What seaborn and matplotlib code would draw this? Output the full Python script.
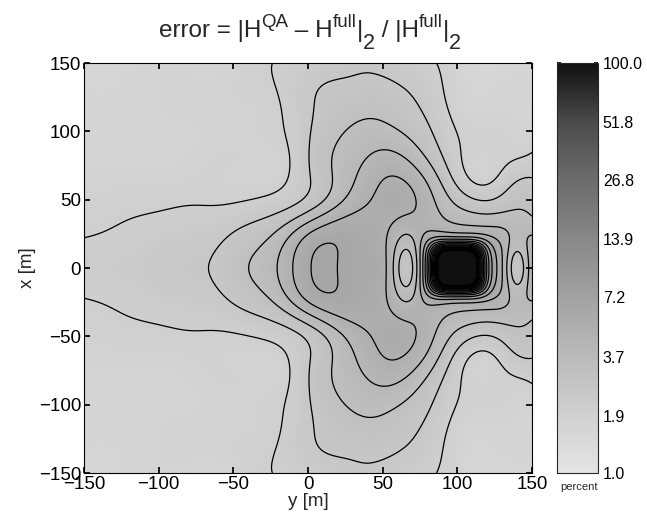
import numpy as np
import matplotlib
matplotlib.use("Agg")
import matplotlib.pyplot as plt
import seaborn as sns
from matplotlib.colors import LogNorm, LinearSegmentedColormap
from matplotlib.transforms import offset_copy

# ---------------- data ----------------
axis_ticks = [-150, -100, -50, 0, 50, 100, 150]
cbar_ticks = [1.0, 1.9, 3.7, 7.2, 13.9, 26.8, 51.8, 100.0]
contour_levels_log = [0.1 * k for k in range(3, 21)]   # log10(percent) of drawn contours

# contour lines traced on the picture (y [m], x [m]), upper half (x >= 0), field symmetric in x
L1_y = [-150, -125, -106, -72, -37, -17, -12, -13, -14, -19, -24, -25, 87, 90, 93, 100, 102, 108, 115, 122, 129, 140, 150]
L1_x = [22, 33, 40, 46, 50, 59, 70, 82, 94, 118, 143, 150, 150, 135, 118, 86, 74, 62, 57, 60, 70, 78, 86]
L2_y = [-67, -62, -55, -47, -30, -12, -3, 1, 1, 1, 2, 10, 23, 37, 50, 60, 68, 77, 84, 90, 95, 100, 106, 113, 130, 150]
L2_x = [0, 12, 22, 28, 37, 45, 52, 64, 80, 101, 123, 133, 139, 141, 140, 135, 128, 114, 99, 85, 74, 64, 56, 52, 58, 66]
L3_y = [-39, -37, -25, -5, 7, 13, 16, 19, 24, 33, 46, 58, 66, 75, 84, 90, 96, 110, 130, 150]
L3_x = [0, 11, 22, 37, 45, 52, 65, 90, 101, 106, 108, 103, 96, 84, 70, 58, 46, 42, 40, 38]
L4_y = [-21, -18, -10, 5, 23, 30, 35, 40, 47, 55, 63, 70, 77, 82]
L4_x = [0, 13, 26, 37, 48, 62, 72, 79, 84, 86, 83, 77, 67, 55]
L5_y = [-10, -9, -7, 0, 8, 20, 35, 43, 48, 55, 62, 70, 75]
L5_x = [0, 10, 18, 25, 30, 36, 42, 52, 62, 66, 64, 58, 52]
L6_y = [3, 5, 11, 17, 20]
L6_x = [0, 9, 13, 9, 0]
# spot values (log10 percent) read from the grey shade
val_y = [-150, -100, -60, -130, -60, -40, -150, -100, 20, 50, 0, 75, -10, 10, 40, 70,
         50, 45, 30, 150, 125, 110, 130, 130, 150, 11, 40, 30, 45, 60, -5, 100, 120, 150, 90,
         -150, -150, -120, -110, -80, -50, -80, -40, -150, -90,
         150, 100, 150, 120, 150, 150, 120, 135, -50, -60]
val_x = [150, 100, 130, 70, 80, 110, 0, 0, 150, 150, 150, 150, 120, 110, 125, 110,
         95, 75, 95, 150, 125, 100, 100, 50, 50, 0, 0, 15, 40, 45, 75, 32, 30, 20, 35,
         100, 60, 150, 70, 150, 150, 100, 80, 40, 60,
         120, 150, 100, 80, 75, 47, 100, 90, 95, 100]
val_v = [0.20, 0.22, 0.25, 0.24, 0.26, 0.25, 0.34, 0.37, 0.38, 0.38, 0.33, 0.32, 0.33, 0.42, 0.45, 0.43,
         0.56, 0.66, 0.53, 0.20, 0.22, 0.27, 0.26, 0.42, 0.45, 0.84, 0.76, 0.77, 0.73, 0.72, 0.35, 0.60, 0.60, 0.62, 0.62,
         0.22, 0.25, 0.21, 0.24, 0.22, 0.24, 0.23, 0.25, 0.27, 0.26,
         0.22, 0.24, 0.25, 0.27, 0.35, 0.46, 0.26, 0.26, 0.25, 0.24]
# level of the field beneath the peak and the two side lobes
bg_y = [56, 66, 76, 85, 100, 120, 139, 150, 66, 139]
bg_x = [0, 0, 0, 0, 0, 0, 0, 0, 20, 20]
bg_v = [0.77, 0.78, 0.80, 0.80, 0.80, 0.80, 0.78, 0.76, 0.74, 0.72]
# peak and side-lobe features: centre (y, x), widths, amplitude, shape power
feat_y = [100.0, 66.0, 140.0]
feat_x = [0.0, 0.0, 0.0]
feat_sy = [12.6, 10.5, 9.0]
feat_sx = [12.6, 25.0, 22.0]
feat_amp = [3.47, -0.35, -0.35]
feat_pow = [4, 2, 2]

# ---------------- style ----------------
sns.set_theme(style="ticks")
plt.rcParams['font.family'] = ['Liberation Sans', 'DejaVu Sans']


def features(yy, xx):
    out = np.zeros(np.broadcast(yy, xx).shape)
    for y0, x0, sy, sx, a, p in zip(feat_y, feat_x, feat_sy, feat_sx, feat_amp, feat_pow):
        dy = np.abs((yy - y0) / sy)
        dx = np.abs((xx - x0) / sx)
        out = out + a * np.exp(-(dy ** p + dx ** p) ** (2.0 / p))
    return out


# assemble the traced samples, mirrored in x
py, px, pv, sub = [], [], [], []
for ly, lx, lv in [(L1_y, L1_x, 0.3), (L2_y, L2_x, 0.4), (L3_y, L3_x, 0.5),
                   (L4_y, L4_x, 0.6), (L5_y, L5_x, 0.7), (L6_y, L6_x, 0.8)]:
    for a, b in zip(ly, lx):
        py.append(a); px.append(b); pv.append(lv); sub.append(True)
for a, b, v in zip(val_y, val_x, val_v):
    py.append(a); px.append(b); pv.append(v); sub.append(True)
for a, b, v in zip(bg_y, bg_x, bg_v):
    py.append(a); px.append(b); pv.append(v); sub.append(False)
py = np.array(py, float); px = np.array(px, float); pv = np.array(pv, float); sub = np.array(sub)
py = np.concatenate([py, py]); pv = np.concatenate([pv, pv]); sub = np.concatenate([sub, sub])
px = np.concatenate([px, -px])
target = pv - np.where(sub, features(py, px), 0.0)

# smooth surface through the traced samples (separable gaussian basis)
centers = np.arange(-180, 181, 15.0)
sig = 17.0
b0 = 0.3


def basis(u):
    return np.exp(-0.5 * ((u[:, None] - centers[None, :]) / sig) ** 2)


Gy, Gx = basis(py), basis(px)
m = len(centers)
A = (Gy[:, :, None] * Gx[:, None, :]).reshape(len(py), m * m)
w = np.linalg.solve(A.T @ A + 0.006 * np.eye(m * m), A.T @ (target - b0))
W = w.reshape(m, m)

yv = np.linspace(-150, 150, 451)
xv = np.linspace(-150, 150, 451)
Y, X = np.meshgrid(yv, xv)
F = b0 + basis(xv) @ W.T @ basis(yv).T + features(Y, X)
err = 10 ** F

# ---------------- figure ----------------
fig = plt.figure(figsize=(6.47, 5.28), dpi=100)
ax = fig.add_axes([84 / 647, 1 - 473 / 528, 448 / 647, 410 / 528])
cax = fig.add_axes([557 / 647, 1 - 473 / 528, 41 / 647, 410 / 528])

grey_levels = ["#e4e4e4", "#d0d0d0", "#bababa", "#a2a2a2", "#888888", "#6c6c6c", "#4b4b4b", "#101010"]
cmap = LinearSegmentedColormap.from_list("g", grey_levels)
norm = LogNorm(vmin=1.0, vmax=100.0)
im = ax.imshow(np.clip(err, 1.0, 100.0), extent=[-150, 150, -150, 150], origin="lower",
               cmap=cmap, norm=norm, aspect="auto", interpolation="bilinear")
ax.contour(Y, X, err, levels=[10 ** v for v in contour_levels_log], colors="black", linewidths=0.9)

ax.set_xlim(-150, 150)
ax.set_ylim(-150, 150)
ax.set_xticks(axis_ticks)
ax.set_yticks(axis_ticks)
ax.set_xticklabels([str(t).replace('-', '\u2212') for t in axis_ticks])
ax.set_yticklabels([str(t).replace('-', '\u2212') for t in axis_ticks])
ax.tick_params(direction="in", length=4, labelsize=13.5, top=True, right=True, pad=2, colors="black")
for s in ax.spines.values():
    s.set_linewidth(0.8)
    s.set_color("black")
ax.set_xlabel("y [m]", fontsize=13.5, labelpad=0)
ax.set_ylabel("x [m]", fontsize=13.5, labelpad=2)

# title built from pieces (text, size, vertical offset in points)
title_parts = [("error = |H", 17.5, 0), ("QA", 13.5, 7.5), (" \u2013 H", 17.5, 0), ("full", 13.5, 7.5),
               ("|", 17.5, 0), ("2", 15.5, -8.5), (" / |H", 17.5, 0), ("full", 13.5, 7.5), ("|", 17.5, 0), ("2", 15.5, -8.5)]
renderer = fig.canvas.get_renderer()
widths = []
for t, s, d in title_parts:
    tt = fig.text(0, 0, t, fontsize=s)
    widths.append(tt.get_window_extent(renderer).width)
    tt.remove()
x_px = 310 - sum(widths) / 2
base_y = 528 - 37
for (t, s, d), wpx in zip(title_parts, widths):
    fig.text(x_px / 647, base_y / 528, t, fontsize=s, va="baseline", ha="left",
             transform=offset_copy(fig.transFigure, fig=fig, x=0, y=d, units="points"))
    x_px += wpx

cb = fig.colorbar(im, cax=cax)
cb.set_ticks(cbar_ticks)
cb.set_ticklabels([f"{t:.1f}" for t in cbar_ticks])
cb.ax.minorticks_off()
cax.tick_params(direction="in", length=3, labelsize=11.5, left=True, right=True, colors="black")
cb.outline.set_linewidth(0.8)
fig.text(579 / 647, 1 - 487 / 528, "percent", fontsize=8, ha="center", va="center")

fig.savefig("out.png", dpi=100)
